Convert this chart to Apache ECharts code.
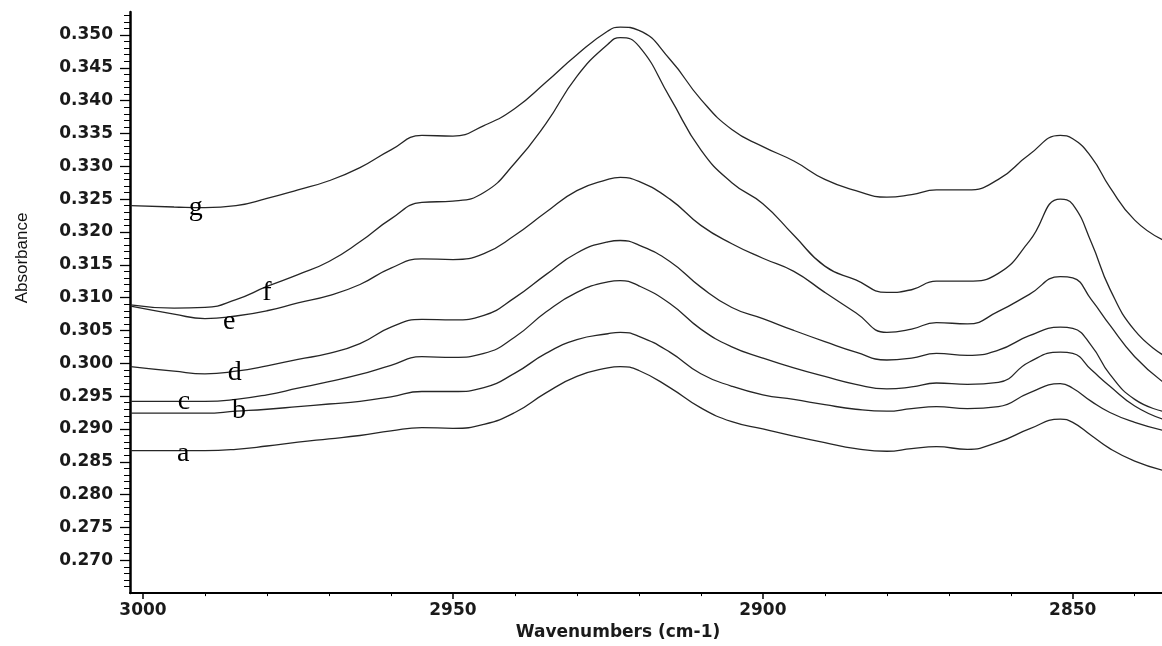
<!DOCTYPE html>
<html><head><meta charset="utf-8">
<script src="https://cdn.jsdelivr.net/npm/echarts@6/dist/echarts.min.js"></script>
<style>html,body{margin:0;padding:0;background:#fff}#c{width:1162px;height:646px}</style>
</head><body><div id="c"></div>
<script>
// Wavenumbers (cm-1) at which every curve was read
const wavenumbers = [3002,2995,2990,2985,2980,2975,2970,2965,2960,2955,2950,2945,2940,2935,2930,2925,2923,2920,2915,2910,2905,2900,2895,2890,2885,2880,2876,2872,2867,2862,2857,2852,2850,2847,2844,2840,2835.5];
// Absorbance of each spectrum
const curveA = [0.2867,0.2867,0.2867,0.2869,0.2874,0.2880,0.2885,0.2890,0.2897,0.2902,0.2901,0.2907,0.2925,0.2955,0.2980,0.2993,0.2995,0.2989,0.2963,0.2932,0.2911,0.2900,0.2889,0.2879,0.2870,0.2866,0.2870,0.2873,0.2869,0.2880,0.2900,0.2915,0.2910,0.2890,0.2870,0.2851,0.2837];
const curveB = [0.2924,0.2924,0.2924,0.2927,0.2930,0.2934,0.2938,0.2942,0.2949,0.2957,0.2957,0.2963,0.2985,0.3015,0.3036,0.3045,0.3047,0.3041,0.3017,0.2984,0.2965,0.2952,0.2945,0.2937,0.2930,0.2927,0.2931,0.2934,0.2931,0.2934,0.2955,0.2969,0.2962,0.2942,0.2925,0.2910,0.2898];
const curveC = [0.2942,0.2942,0.2942,0.2945,0.2952,0.2962,0.2972,0.2983,0.2997,0.3010,0.3009,0.3015,0.3040,0.3078,0.3108,0.3124,0.3126,0.3118,0.3091,0.3052,0.3025,0.3008,0.2993,0.2980,0.2968,0.2961,0.2964,0.2970,0.2968,0.2971,0.3002,0.3017,0.3015,0.2990,0.2965,0.2935,0.2915];
const curveD = [0.2995,0.2988,0.2984,0.2988,0.2996,0.3006,0.3015,0.3030,0.3055,0.3067,0.3066,0.3073,0.3100,0.3135,0.3168,0.3185,0.3187,0.3180,0.3155,0.3116,0.3085,0.3068,0.3050,0.3033,0.3017,0.3005,0.3008,0.3015,0.3012,0.3020,0.3042,0.3055,0.3053,0.3027,0.2983,0.2945,0.2927];
const curveE = [0.3087,0.3075,0.3068,0.3072,0.3080,0.3092,0.3103,0.3120,0.3145,0.3159,0.3158,0.3167,0.3195,0.3230,0.3263,0.3280,0.3283,0.3277,0.3250,0.3210,0.3182,0.3160,0.3140,0.3108,0.3077,0.3047,0.3052,0.3062,0.3060,0.3079,0.3105,0.3132,0.3130,0.3097,0.3058,0.3010,0.2972];
const curveF = [0.3089,0.3084,0.3085,0.3097,0.3117,0.3135,0.3155,0.3185,0.3220,0.3245,0.3247,0.3260,0.3305,0.3365,0.3437,0.3486,0.3496,0.3483,0.3405,0.3325,0.3275,0.3243,0.3195,0.3148,0.3127,0.3108,0.3112,0.3125,0.3125,0.3137,0.3186,0.3250,0.3242,0.3184,0.3113,0.3050,0.3013];
const curveG = [0.3240,0.3238,0.3237,0.3240,0.3251,0.3264,0.3278,0.3298,0.3325,0.3347,0.3346,0.3362,0.3388,0.3428,0.3470,0.3506,0.3512,0.3507,0.3463,0.3402,0.3356,0.3330,0.3308,0.3280,0.3263,0.3253,0.3257,0.3264,0.3264,0.3280,0.3318,0.3347,0.3342,0.3314,0.3268,0.3218,0.3188];
const curveNames = ['a','b','c','d','e','f','g'];
const curves = [curveA,curveB,curveC,curveD,curveE,curveF,curveG];
// Where each curve's letter sits (wavenumber, absorbance)
const labelAnchors = [[2993.5,0.2863],[2984.5,0.2928],[2993.4,0.2942],[2985.2,0.2986],[2986.1,0.3064],[2980.0,0.3107],[2991.5,0.3237]];
// Axis ticks
const xMajorTicks = [3000,2950,2900,2850];
const xMinorTicks = [2990,2980,2970,2960,2940,2930,2920,2910,2890,2880,2870,2860,2840];
const yMajorTicks = [0.270,0.275,0.280,0.285,0.290,0.295,0.300,0.305,0.310,0.315,0.320,0.325,0.330,0.335,0.340,0.345,0.350];
const yMinorTicks = [];
for (let k = 266; k <= 353; k++) yMinorTicks.push(k / 1000);

const X_MIN = 2835.6, X_MAX = 3002.1, Y_MIN = 0.265, Y_MAX = 0.3535;
const axisFont = {fontFamily: 'DejaVu Sans', fontSize: 17, fontWeight: 'bold', color: '#1a1a1a'};

const chart = echarts.init(document.getElementById('c'), null, {renderer: 'canvas'});
const series = curves.map((vals, i) => ({
  name: curveNames[i],
  type: 'line',
  xAxisIndex: 0, yAxisIndex: 0,
  data: wavenumbers.map((w, j) => [w, vals[j]]),
  smooth: 0.5,
  showSymbol: false,
  symbol: 'none',
  lineStyle: {color: '#262626', width: 1.3},
  silent: true,
  markPoint: {
    symbol: 'circle', symbolSize: 1,
    itemStyle: {color: 'rgba(0,0,0,0)'},
    label: {show: true, position: 'inside', formatter: curveNames[i],
      fontFamily: 'Liberation Serif', fontSize: 28, color: '#000'},
    data: [{coord: labelAnchors[i]}]
  }
}));

chart.setOption({
  animation: false,
  backgroundColor: '#fff',
  grid: {left: 130, right: 0, top: 12, bottom: 45, containLabel: false},
  xAxis: [{
    type: 'value', inverse: true, min: X_MIN, max: X_MAX,
    name: 'Wavenumbers (cm-1)', nameLocation: 'middle', nameGap: 25,
    nameTextStyle: Object.assign({}, axisFont, {padding: [0, 56, 0, 0]}),
    axisLine: {show: true, onZero: false, lineStyle: {color: '#000', width: 2}},
    axisTick: {show: true, inside: false, length: 6, customValues: xMajorTicks, lineStyle: {color: '#000', width: 1.5}},
    axisLabel: Object.assign({}, axisFont, {margin: 9, customValues: xMajorTicks, formatter: v => String(v)}),
    splitLine: {show: false}
  }, {
    type: 'value', inverse: true, min: X_MIN, max: X_MAX, position: 'bottom',
    axisLine: {show: false},
    axisTick: {show: true, length: 3, customValues: xMinorTicks, lineStyle: {color: '#000', width: 1}},
    axisLabel: {show: false}, splitLine: {show: false}
  }],
  yAxis: [{
    type: 'value', min: Y_MIN, max: Y_MAX,
    axisLine: {show: true, onZero: false, lineStyle: {color: '#000', width: 2.5}},
    axisTick: {show: true, length: 10, customValues: yMajorTicks, lineStyle: {color: '#000', width: 1.3}},
    axisLabel: Object.assign({}, axisFont, {margin: 17, customValues: yMajorTicks, formatter: v => v.toFixed(3)}),
    splitLine: {show: false}
  }, {
    type: 'value', min: Y_MIN, max: Y_MAX, position: 'left',
    axisLine: {show: false},
    axisTick: {show: true, length: 6, customValues: yMinorTicks, lineStyle: {color: '#000', width: 1}},
    axisLabel: {show: false}, splitLine: {show: false}
  }],
  graphic: [{
    type: 'text', x: 22, y: 258, rotation: Math.PI / 2,
    style: {text: 'Absorbance', fontFamily: 'Liberation Sans', fontSize: 17, fill: '#111', align: 'center', verticalAlign: 'middle'}
  }],
  series: series
});
</script></body></html>
